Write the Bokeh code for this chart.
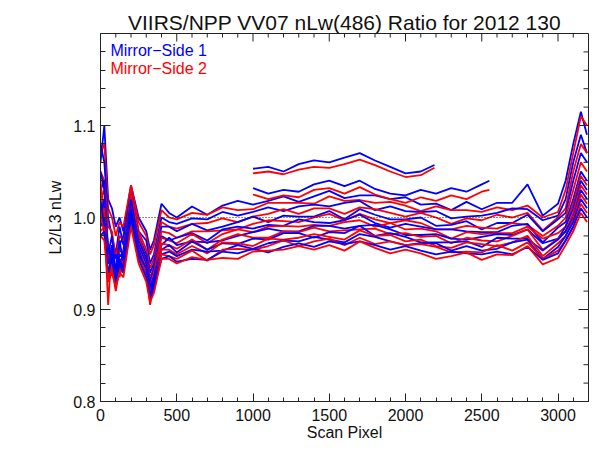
from bokeh.plotting import figure
from bokeh.models import (Range1d, SingleIntervalTicker, LinearAxis,
                          PrintfTickFormatter, Span, Label, BoxAnnotation)
from bokeh.embed import file_html
from bokeh.resources import INLINE

# ---------------- data ----------------
scan_pixel = [0, 25, 50, 75, 100, 125, 150, 200, 250, 300, 325, 350, 400, 450, 500,
              600, 700, 800, 900, 1000, 1100, 1200, 1300, 1400, 1500, 1600, 1700,
              1800, 1900, 2000, 2100, 2200, 2300, 2400, 2500, 2600, 2700, 2800,
              2900, 3000, 3050, 3100, 3150, 3190]

# Mirror-Side 1 (blue)
ms1_a = [1.06, 1.10, 1.02, 1.01, 0.99, 1.0, 0.985, 1.035, 1.0, 0.985, 0.965, 0.975, 1.015, 1.005, 1.0,
         1.012, 1.003, 1.013, 1.018, 1.014, 1.018, 1.023, 1.017, 1.023, 1.029, 1.021, 1.024, 1.024,
         1.020, 1.022, 1.014, 1.015, 1.008, 1.017, 1.009, 1.016, 1.016, 1.036, 1.002, 1.015,
         1.04, 1.08, 1.115, 1.09]
ms1_b = [1.08, 1.06, 1.0, 0.98, 0.96, 0.99, 0.97, 1.03, 0.985, 0.975, 0.95, 0.96, 1.0, 0.995, 0.993,
         0.999, 0.998, 1.006, 1.002, 1.006, 1.011, 1.007, 1.012, 1.014, 1.012, 1.016, 1.018, 1.008,
         1.012, 1.007, 1.006, 1.007, 0.999, 1.001, 1.002, 1.005, 1.010, 1.009, 0.997, 1.002,
         1.02, 1.06, 1.09, 1.07]
ms1_c = [1.03, 1.04, 0.95, 0.97, 0.93, 0.97, 0.98, 1.025, 0.98, 0.96, 0.94, 0.95, 0.99, 0.99, 0.985,
         0.993, 0.986, 0.990, 0.995, 1.001, 0.995, 1.002, 1.001, 1.001, 1.007, 0.998, 1.009, 1.003,
         0.998, 0.998, 1.000, 0.991, 0.992, 0.996, 0.987, 0.994, 0.994, 1.003, 0.985, 0.998,
         1.005, 1.04, 1.07, 1.06]
ms1_d = [1.0, 1.02, 0.97, 0.95, 0.96, 0.94, 0.965, 1.015, 0.975, 0.955, 0.93, 0.945, 0.98, 0.975, 0.978,
         0.983, 0.975, 0.987, 0.990, 0.988, 0.992, 0.991, 0.998, 0.995, 0.994, 0.997, 1.003, 0.994,
         0.989, 0.993, 0.990, 0.987, 0.987, 0.985, 0.984, 0.984, 0.991, 0.993, 0.973, 0.989,
         0.995, 1.02, 1.05, 1.04]
ms1_e = [1.05, 1.03, 0.96, 0.98, 0.94, 0.975, 0.95, 1.02, 0.97, 0.95, 0.925, 0.935, 0.97, 0.978, 0.97,
         0.974, 0.973, 0.975, 0.980, 0.984, 0.988, 0.985, 0.985, 0.991, 0.991, 0.988, 0.991, 0.992,
         0.987, 0.981, 0.981, 0.982, 0.977, 0.976, 0.979, 0.982, 0.981, 0.987, 0.972, 0.977,
         0.99, 1.01, 1.04, 1.03]
ms1_f = [0.99, 1.0, 0.95, 0.96, 0.935, 0.96, 0.955, 1.01, 0.965, 0.94, 0.92, 0.935, 0.965, 0.97, 0.962,
         0.974, 0.965, 0.972, 0.971, 0.977, 0.976, 0.983, 0.983, 0.978, 0.984, 0.983, 0.991, 0.980,
         0.983, 0.979, 0.973, 0.973, 0.973, 0.974, 0.968, 0.978, 0.977, 0.977, 0.964, 0.976,
         0.985, 1.0, 1.03, 1.02]
ms1_g = [1.02, 0.99, 0.93, 0.97, 0.925, 0.955, 0.945, 1.005, 0.96, 0.945, 0.915, 0.93, 0.96, 0.963, 0.958,
         0.965, 0.963, 0.964, 0.970, 0.966, 0.972, 0.975, 0.974, 0.979, 0.976, 0.973, 0.982, 0.979,
         0.974, 0.970, 0.972, 0.972, 0.964, 0.969, 0.964, 0.966, 0.973, 0.976, 0.955, 0.968,
         0.98, 0.995, 1.02, 1.01]
ms1_h = [0.98, 0.985, 0.94, 0.955, 0.93, 0.95, 0.94, 1.0, 0.955, 0.935, 0.91, 0.925, 0.955, 0.958, 0.952,
         0.955, 0.954, 0.963, 0.961, 0.966, 0.962, 0.968, 0.972, 0.968, 0.974, 0.971, 0.974, 0.970,
         0.965, 0.969, 0.964, 0.960, 0.963, 0.961, 0.960, 0.963, 0.960, 0.968, 0.954, 0.961,
         0.975, 0.99, 1.01, 1.0]

# Mirror-Side 2 (red)
ms2_a = [1.07, 1.08, 1.01, 1.0, 0.98, 0.995, 0.99, 1.035, 0.995, 0.98, 0.96, 0.97, 1.008, 1.0, 0.998,
         1.005, 1.003, 1.011, 1.008, 1.009, 1.016, 1.016, 1.016, 1.015, 1.023, 1.018, 1.019, 1.016,
         1.017, 1.013, 1.007, 1.012, 1.008, 1.008, 1.006, 1.011, 1.008, 1.013, 1.000, 1.006,
         1.03, 1.07, 1.11, 1.1]
ms2_b = [1.05, 1.04, 0.99, 0.985, 0.955, 0.98, 0.975, 1.03, 0.985, 0.965, 0.945, 0.955, 0.995, 0.99, 0.988,
         0.993, 0.994, 0.999, 0.995, 1.001, 1.004, 1.009, 1.004, 1.010, 1.010, 1.004, 1.011, 1.009,
         1.005, 1.001, 1.005, 1.000, 0.993, 0.999, 0.997, 1.003, 1.000, 1.005, 0.986, 1.000,
         1.01, 1.05, 1.08, 1.07]
ms2_c = [1.04, 1.0, 0.905, 0.97, 0.94, 0.965, 0.96, 1.025, 0.98, 0.955, 0.935, 0.945, 0.985, 0.983, 0.978,
         0.985, 0.985, 0.986, 0.987, 0.993, 0.997, 0.996, 0.995, 1.000, 1.004, 0.997, 1.004, 0.998,
         0.994, 0.997, 0.994, 0.987, 0.987, 0.991, 0.989, 0.988, 0.994, 0.992, 0.980, 0.991,
         1.0, 1.03, 1.06, 1.05]
ms2_d = [1.02, 1.03, 0.96, 0.94, 0.95, 0.935, 0.955, 1.015, 0.97, 0.95, 0.925, 0.94, 0.978, 0.975, 0.972,
         0.982, 0.972, 0.982, 0.987, 0.984, 0.990, 0.991, 0.990, 0.992, 0.991, 0.995, 0.997, 0.990,
         0.994, 0.987, 0.988, 0.985, 0.977, 0.984, 0.982, 0.983, 0.983, 0.990, 0.977, 0.983,
         0.99, 1.015, 1.045, 1.035]
ms2_e = [0.995, 1.01, 0.95, 0.96, 0.93, 0.955, 0.95, 1.01, 0.965, 0.945, 0.905, 0.93, 0.972, 0.97, 0.966,
         0.976, 0.965, 0.976, 0.982, 0.978, 0.978, 0.985, 0.984, 0.989, 0.985, 0.986, 0.987, 0.988,
         0.982, 0.983, 0.979, 0.980, 0.972, 0.978, 0.975, 0.974, 0.980, 0.987, 0.965, 0.977,
         0.985, 1.005, 1.035, 1.025]
ms2_f = [1.01, 0.98, 0.94, 0.95, 0.93, 0.95, 0.945, 1.0, 0.96, 0.94, 0.92, 0.925, 0.965, 0.965, 0.96,
         0.969, 0.961, 0.973, 0.972, 0.969, 0.977, 0.976, 0.978, 0.982, 0.979, 0.976, 0.986, 0.980,
         0.981, 0.974, 0.976, 0.969, 0.967, 0.973, 0.971, 0.969, 0.973, 0.980, 0.958, 0.972,
         0.98, 0.998, 1.025, 1.015]
ms2_g = [0.985, 0.99, 0.935, 0.945, 0.92, 0.945, 0.94, 0.995, 0.955, 0.935, 0.912, 0.92, 0.96, 0.958, 0.955,
         0.964, 0.953, 0.965, 0.966, 0.965, 0.969, 0.975, 0.969, 0.974, 0.977, 0.970, 0.978, 0.971,
         0.974, 0.970, 0.971, 0.968, 0.962, 0.963, 0.962, 0.970, 0.964, 0.973, 0.955, 0.964,
         0.975, 0.99, 1.015, 1.005]
ms2_h = [0.98, 0.975, 0.93, 0.94, 0.925, 0.94, 0.935, 0.99, 0.95, 0.93, 0.908, 0.918, 0.955, 0.955, 0.95,
         0.957, 0.954, 0.956, 0.955, 0.963, 0.964, 0.965, 0.969, 0.965, 0.970, 0.964, 0.974, 0.967,
         0.961, 0.965, 0.961, 0.955, 0.958, 0.962, 0.954, 0.960, 0.959, 0.969, 0.949, 0.956,
         0.97, 0.985, 1.005, 0.995]

# partial-scan granules
short_pixel = [1000, 1100, 1200, 1300, 1400, 1500, 1600, 1700, 1800, 1900, 2000, 2100, 2190]
short_ms1 = [1.053, 1.055, 1.05, 1.058, 1.062, 1.06, 1.065, 1.07, 1.062, 1.055, 1.048, 1.05, 1.057]
short_ms2 = [1.048, 1.05, 1.047, 1.052, 1.055, 1.054, 1.058, 1.063, 1.057, 1.05, 1.044, 1.046, 1.054]

mid_pixel = [1000, 1100, 1200, 1300, 1400, 1500, 1600, 1700, 1800, 1900, 2000, 2100,
             2200, 2300, 2400, 2500, 2550]
mid_ms1 = [1.032, 1.026, 1.03, 1.028, 1.036, 1.04, 1.034, 1.04, 1.031, 1.026, 1.024, 1.03,
           1.026, 1.032, 1.028, 1.036, 1.04]
mid_ms2 = [1.025, 1.02, 1.024, 1.022, 1.03, 1.032, 1.026, 1.033, 1.025, 1.02, 1.016, 1.022,
           1.018, 1.024, 1.02, 1.028, 1.03]

mirror_side_1 = [ms1_a, ms1_b, ms1_c, ms1_d, ms1_e, ms1_f, ms1_g, ms1_h]
mirror_side_2 = [ms2_a, ms2_b, ms2_c, ms2_d, ms2_e, ms2_f, ms2_g, ms2_h]

# axis ticks
x_major_ticks = [0, 500, 1000, 1500, 2000, 2500, 3000]
x_minor_ticks = [v for v in range(100, 3200, 100) if v % 500 != 0]
y_major_ticks = [0.8, 0.9, 1.0, 1.1, 1.2]
y_minor_ticks = [0.82, 0.84, 0.86, 0.88, 0.92, 0.94, 0.96, 0.98,
                 1.02, 1.04, 1.06, 1.08, 1.12, 1.14, 1.16, 1.18]

FONT = "Liberation Sans"
AX = "#222222"
TXT = "#111111"
BLUE = "#0000ff"
RED = "#ff0000"
FW, FH = 488, 368

p = figure(frame_width=FW, frame_height=FH,
           x_range=Range1d(0, 3200), y_range=Range1d(0.8, 1.2),
           x_axis_location=None, y_axis_location=None,
           min_border_left=100, min_border_right=5, min_border_top=33, min_border_bottom=47,
           output_backend="svg", toolbar_location=None,
           background_fill_color="white", border_fill_color="white")
p.grid.grid_line_color = None
p.grid.visible = False
p.outline_line_color = AX
p.extra_x_ranges = {"fpx": Range1d(0, FW)}
p.extra_y_ranges = {"fpx": Range1d(0, FH)}

# window frame of the original screenshot (pale blue strips, left and top),
# placed in frame-pixel units relative to the plot frame
p.add_layout(BoxAnnotation(left=-100, right=-90, bottom=-60, top=FH + 40,
                           x_range_name="fpx", y_range_name="fpx",
                           fill_color="#c9ecfb", fill_alpha=1.0, line_color=None,
                           level="underlay"))
p.add_layout(BoxAnnotation(left=-90, right=-88, bottom=-60, top=FH + 28,
                           x_range_name="fpx", y_range_name="fpx",
                           fill_color="#4d95ee", fill_alpha=1.0, line_color=None,
                           level="underlay"))
p.add_layout(BoxAnnotation(left=-90, right=FW + 12, bottom=FH + 29, top=FH + 40,
                           x_range_name="fpx", y_range_name="fpx",
                           fill_color="#c9ecfb", fill_alpha=1.0, line_color=None,
                           level="underlay"))
p.add_layout(BoxAnnotation(left=-90, right=FW + 12, bottom=FH + 27, top=FH + 29,
                           x_range_name="fpx", y_range_name="fpx",
                           fill_color="#4d95ee", fill_alpha=1.0, line_color=None,
                           level="underlay"))

p.title.text = "VIIRS/NPP VV07 nLw(486) Ratio for 2012 130"
p.title.align = "center"
p.title.text_font = FONT
p.title.text_font_style = "normal"
p.title.text_font_size = "21px"
p.title.text_color = TXT
p.title.standoff = 0


def make_axis(kind, loc):
    if kind == "x":
        tk = SingleIntervalTicker(interval=500, num_minor_ticks=5)
        ax = LinearAxis(ticker=tk, formatter=PrintfTickFormatter(format="%d"))
        ax.major_tick_in = 8
        ax.minor_tick_in = 4
    else:
        tk = SingleIntervalTicker(interval=0.1, num_minor_ticks=5)
        ax = LinearAxis(ticker=tk, formatter=PrintfTickFormatter(format="%.1f"))
        ax.major_tick_in = 10
        ax.minor_tick_in = 5
    ax.major_tick_out = 0
    ax.minor_tick_out = 0
    ax.axis_line_color = AX
    ax.major_tick_line_color = AX
    ax.minor_tick_line_color = AX
    ax.major_label_text_font = FONT
    ax.major_label_text_color = TXT
    ax.major_label_text_font_size = "16px"
    ax.axis_label_text_font = FONT
    ax.axis_label_text_font_style = "normal"
    ax.axis_label_text_color = TXT
    ax.axis_label_text_font_size = "16px"
    p.add_layout(ax, loc)
    return ax


xb = make_axis("x", "below")
xb.axis_label = "Scan Pixel"
xb.major_label_standoff = 7
xb.axis_label_standoff = 0
yl = make_axis("y", "left")
yl.axis_label = "L2/L3 nLw"
yl.major_label_standoff = 5
yl.axis_label_standoff = 6

# inward ticks on the top and right frame edges
p.segment(x0=x_major_ticks, y0=[FH] * len(x_major_ticks), x1=x_major_ticks,
          y1=[FH - 8] * len(x_major_ticks), y_range_name="fpx", line_color=AX, line_width=1)
p.segment(x0=x_minor_ticks, y0=[FH] * len(x_minor_ticks), x1=x_minor_ticks,
          y1=[FH - 4] * len(x_minor_ticks), y_range_name="fpx", line_color=AX, line_width=1)
p.segment(x0=[FW] * len(y_major_ticks), y0=y_major_ticks, x1=[FW - 10] * len(y_major_ticks),
          y1=y_major_ticks, x_range_name="fpx", line_color=AX, line_width=1)
p.segment(x0=[FW] * len(y_minor_ticks), y0=y_minor_ticks, x1=[FW - 5] * len(y_minor_ticks),
          y1=y_minor_ticks, x_range_name="fpx", line_color=AX, line_width=1)

LW = 1.8
for b, r in zip(mirror_side_1, mirror_side_2):
    p.line(scan_pixel, b, line_color=BLUE, line_width=LW)
    p.line(scan_pixel, r, line_color=RED, line_width=LW)

p.line(mid_pixel, mid_ms1, line_color=BLUE, line_width=LW)
p.line(mid_pixel, mid_ms2, line_color=RED, line_width=LW)
p.line(short_pixel, short_ms1, line_color=BLUE, line_width=LW)
p.line(short_pixel, short_ms2, line_color=RED, line_width=LW)

p.add_layout(Span(location=1.0, dimension="width", line_color=AX,
                  line_width=1, line_dash="1 2"))

p.add_layout(Label(x=65, y=1.181, text="Mirror\u2212Side 1", text_color=BLUE,
                   text_font=FONT, text_font_size="16px", text_baseline="alphabetic"))
p.add_layout(Label(x=65, y=1.162, text="Mirror\u2212Side 2", text_color=RED,
                   text_font=FONT, text_font_size="16px", text_baseline="alphabetic"))

open("out.html", "w").write(file_html(p, INLINE))
